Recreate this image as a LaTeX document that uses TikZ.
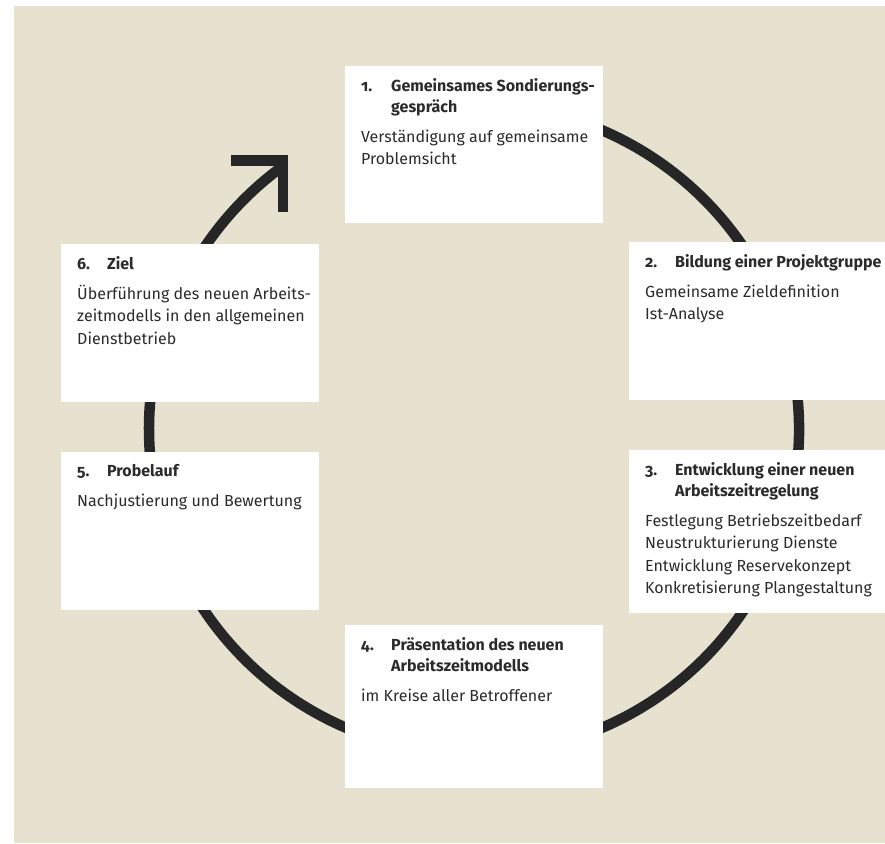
\documentclass[tikz,border=0pt]{standalone}
\usepackage{fontspec}
\setmainfont{Fira Sans}[Numbers=OldStyle]
\usetikzlibrary{positioning}
\definecolor{sand}{HTML}{E7E2D0}
\definecolor{ink}{HTML}{2B2B2B}
\definecolor{loop}{HTML}{262626}
\tikzset{
	card/.style={fill=white, anchor=north west, minimum width=258pt, inner sep=0pt},
	cardtext/.style={align=left, inner sep=0pt, text=ink, font=\fontsize{16}{22.5}\selectfont},
	loopline/.style={draw=loop, line width=10.5pt},
}
\newcommand{\stepno}[1]{\makebox[30pt][l]{#1}}
\begin{document}
\begin{tikzpicture}[x=1pt,y=-1pt]
	\useasboundingbox (0,0) rectangle (885,843);
	\fill[sand] (14,6) rectangle (885,843);
	% the cycle with its arrow
	\coordinate (hub) at (474,429);
	\coordinate (tip) at (283,160.5);
	\draw[loopline] (hub) ++(-100:325) arc[start angle=-100, end angle=234, radius=325];
	\draw[loopline, line join=miter] (tip) ++(-52,0) -- (tip) -- ++(0,51.5);
	% the six steps
	\node[card, minimum height=157pt] (b1) at (345,66) {};
	\node[card, minimum width=256pt, minimum height=158pt] (b2) at (629,242) {};
	\node[card, minimum width=256pt, minimum height=163pt] (b3) at (629,450) {};
	\node[card, minimum height=163pt] (b4) at (345,625) {};
	\node[card, minimum height=158pt] (b5) at (61,452) {};
	\node[card, minimum height=158pt] (b6) at (61,244) {};
	\node[cardtext, below right=12.5pt and 16pt of b1.north west] (t1) {\textbf{\stepno{1.}Gemeinsames Sondierungs-}\\[-1.5pt]\textbf{\stepno{}gespräch}\\[7pt]Verständigung auf gemeinsame\\Problemsicht};
	\node[cardtext, below right=12.5pt and 16pt of b2.north west] (t2) {\textbf{\stepno{2.}Bildung einer Projektgruppe}\\[7pt]Gemeinsame Zieldefinition\\Ist-Analyse};
	\node[cardtext, below right=12.5pt and 16pt of b3.north west] (t3) {\textbf{\stepno{3.}Entwicklung einer neuen}\\[-1.5pt]\textbf{\stepno{}Arbeitszeitregelung}\\[7pt]Festlegung Betriebszeitbedarf\\Neustrukturierung Dienste\\Entwicklung Reservekonzept\\Konkretisierung Plangestaltung};
	\node[cardtext, below right=12.5pt and 16pt of b4.north west] (t4) {\textbf{\stepno{4.}Präsentation des neuen}\\[-1.5pt]\textbf{\stepno{}Arbeitszeitmodells}\\[7pt]im Kreise aller Betroffener};
	\node[cardtext, below right=12.5pt and 16pt of b5.north west] (t5) {\textbf{\stepno{5.}Probelauf}\\[7pt]Nachjustierung und Bewertung};
	\node[cardtext, below right=12.5pt and 16pt of b6.north west] (t6) {\textbf{\stepno{6.}Ziel}\\[7pt]Überführung des neuen Arbeits-\\zeitmodells in den allgemeinen\\Dienstbetrieb};
\end{tikzpicture}
\end{document}
